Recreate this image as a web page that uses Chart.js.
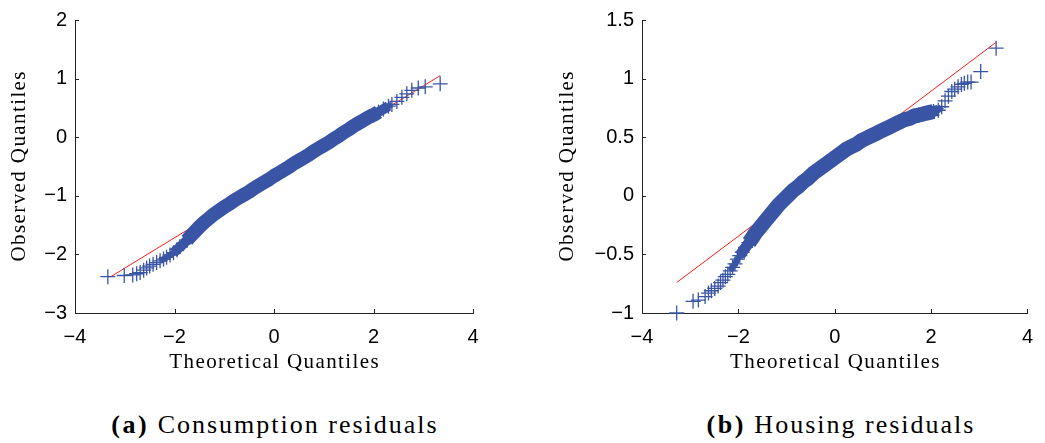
<!DOCTYPE html>
<html><head><meta charset="utf-8">
<script src="https://cdn.jsdelivr.net/npm/chart.js@4"></script>
<style>
body{margin:0;background:#fff;width:1045px;height:443px;overflow:hidden;position:relative}
.wrap{position:absolute;top:0}
.cap{position:absolute;top:410px;font:26px "Liberation Serif",serif;letter-spacing:2px;color:#000;white-space:nowrap;transform:translateX(-50%)}
.cap b{font-weight:bold;letter-spacing:2.5px}
</style></head><body>
<div class="wrap" style="left:0px"><canvas id="c1" width="500" height="390"></canvas></div>
<div class="wrap" style="left:548px"><canvas id="c2" width="497" height="390"></canvas></div>
<div class="cap" style="left:275px"><b>(a)</b> Consumption residuals</div>
<div class="cap" style="left:841px"><b>(b)</b> Housing residuals</div>
<script>
// ---------- data ----------
const xTickValues = [-4, -2, 0, 2, 4];
const leftYTickValues = [-3, -2, -1, 0, 1, 2];
const rightYTickValues = [-1, -0.5, 0, 0.5, 1, 1.5];
const xTitle = 'Theoretical Quantiles';
const yTitle = 'Observed Quantiles';

// (a) Consumption residuals: theoretical vs observed quantiles
const consX = [-3.34,-3.01,-2.84,-2.76,-2.69,-2.62,-2.56,-2.50,-2.43,-2.36,-2.29,-2.22,-2.16,-2.09,-2.02,-1.95,-1.89,-1.82,-1.75,-1.68,-1.60,-1.50,-1.40,-1.30,-1.20,-1.10,-1.00,-0.90,-0.80,-0.70,-0.60,-0.50,-0.40,-0.30,-0.20,-0.10,0.00,0.10,0.20,0.30,0.40,0.50,0.60,0.70,0.80,0.90,1.00,1.10,1.20,1.30,1.40,1.50,1.60,1.70,1.80,1.90,2.00,2.10,2.20,2.30,2.37,2.47,2.57,2.67,2.77,2.90,3.04,3.34];
const consY = [-2.38,-2.36,-2.35,-2.33,-2.31,-2.27,-2.23,-2.20,-2.17,-2.14,-2.11,-2.08,-2.05,-2.01,-1.97,-1.92,-1.87,-1.82,-1.76,-1.69,-1.62,-1.53,-1.45,-1.38,-1.31,-1.25,-1.19,-1.14,-1.08,-1.03,-0.98,-0.93,-0.87,-0.82,-0.77,-0.72,-0.66,-0.61,-0.56,-0.51,-0.45,-0.40,-0.35,-0.30,-0.24,-0.19,-0.14,-0.09,-0.03,0.02,0.08,0.13,0.19,0.24,0.29,0.34,0.38,0.43,0.48,0.53,0.56,0.61,0.68,0.74,0.80,0.84,0.86,0.91];
const consLineX = [-3.30, 3.34];
const consLineY = [-2.39, 1.05];

// (b) Housing residuals
const housX = [-3.28,-2.94,-2.83,-2.69,-2.62,-2.56,-2.49,-2.42,-2.37,-2.32,-2.27,-2.22,-2.17,-2.12,-2.07,-2.02,-1.97,-1.92,-1.85,-1.78,-1.71,-1.65,-1.55,-1.45,-1.35,-1.25,-1.15,-1.05,-0.95,-0.85,-0.75,-0.65,-0.55,-0.45,-0.35,-0.25,-0.15,-0.05,0.05,0.15,0.25,0.35,0.45,0.55,0.65,0.75,0.85,0.95,1.05,1.15,1.25,1.35,1.45,1.55,1.65,1.75,1.85,1.95,2.05,2.15,2.22,2.29,2.36,2.43,2.49,2.56,2.63,2.69,2.76,2.83,3.03,3.35];
const housY = [-1.00,-0.90,-0.89,-0.86,-0.83,-0.81,-0.79,-0.77,-0.74,-0.72,-0.69,-0.67,-0.64,-0.61,-0.58,-0.54,-0.51,-0.48,-0.44,-0.40,-0.36,-0.32,-0.27,-0.22,-0.17,-0.12,-0.07,-0.03,0.01,0.05,0.08,0.12,0.15,0.19,0.22,0.25,0.28,0.31,0.34,0.37,0.40,0.42,0.44,0.47,0.49,0.51,0.53,0.55,0.57,0.59,0.61,0.63,0.65,0.66,0.68,0.69,0.70,0.71,0.72,0.73,0.76,0.81,0.85,0.89,0.91,0.93,0.95,0.96,0.97,0.97,1.06,1.26];
const housLineX = [-3.28, 3.35];
const housLineY = [-0.74, 1.31];

// ---------- rendering ----------
const BLUE = '#3a55a5';
const RED = '#ff1a1a';
const pts = (xs, ys) => xs.map((x, i) => ({x, y: ys[i]}));
const fmt = v => (v < 0 ? '\u2212' : '') + Math.abs(v);

const innerTicks = {
  id: 'innerTicks',
  afterDraw(chart) {
    const {ctx, chartArea: a, scales: {x, y}} = chart;
    ctx.save();
    ctx.strokeStyle = '#222'; ctx.lineWidth = 1;
    ctx.beginPath();
    x.ticks.forEach(t => { const p = Math.round(x.getPixelForValue(t.value)) + 0.5; ctx.moveTo(p, a.bottom); ctx.lineTo(p, a.bottom - 4); });
    y.ticks.forEach(t => { const p = Math.round(y.getPixelForValue(t.value)) + 0.5; ctx.moveTo(a.left, p); ctx.lineTo(a.left + 4, p); });
    ctx.stroke();
    ctx.restore();
  }
};

const axisTitles = {
  id: 'axisTitles',
  afterDraw(chart, args, o) {
    const {ctx, chartArea: a} = chart;
    ctx.save();
    ctx.fillStyle = '#000';
    ctx.font = '21px "Liberation Serif"';
    ctx.letterSpacing = o.spacing + 'px';
    ctx.textAlign = 'center'; ctx.textBaseline = 'middle';
    ctx.fillText(o.xText, (a.left + a.right) / 2 + o.spacing / 2, a.bottom + o.xOffset);
    ctx.translate(a.left - o.yOffset, (a.top + a.bottom) / 2);
    ctx.rotate(-Math.PI / 2);
    ctx.fillText(o.yText, o.spacing / 2, 0);
    ctx.restore();
  }
};

// bands: [from, to, width] — nested ranges give a tapered dense band
function makeChart(id, xs, ys, lx, ly, yTicks, bands, yAxisWidth, padRight, yTitleOffset) {
  const all = pts(xs, ys);
  const bandStyle = {showLine: true, borderColor: BLUE, pointRadius: 0, tension: 0, borderCapStyle: 'butt', borderJoinStyle: 'round', order: 2, clip: false};
  const bandSets = bands.map(b => Object.assign({data: all.filter(p => p.x >= b[0] && p.x <= b[1]), borderWidth: b[2]}, bandStyle));
  return new Chart(document.getElementById(id), {
    type: 'scatter',
    data: {
      datasets: [
        {data: pts(lx, ly), showLine: true, borderColor: RED, borderWidth: 1, pointRadius: 0, order: 4, clip: false},
        ...bandSets,
        {data: all, showLine: false, pointStyle: 'cross', pointRadius: 7.5, pointBorderWidth: 1.3, borderColor: BLUE, backgroundColor: BLUE, order: 1, clip: false}
      ]
    },
    options: {
      responsive: false, animation: false, events: [],
      layout: {padding: {left: 0, right: padRight, top: 15, bottom: 0}},
      plugins: {
        legend: {display: false}, tooltip: {enabled: false},
        axisTitles: {xText: xTitle, yText: yTitle, spacing: 1.4, xOffset: 49, yOffset: yTitleOffset}
      },
      scales: {
        x: {
          type: 'linear', min: -4, max: 4,
          afterBuildTicks: s => { s.ticks = xTickValues.map(v => ({value: v})); },
          afterFit: s => { s.height = 77; },
          grid: {display: false, drawTicks: false},
          border: {display: true, color: '#222', width: 1},
          ticks: {padding: 12, color: '#000', font: {family: 'Liberation Sans', size: 20}, callback: fmt, maxRotation: 0},
          title: {display: false}
        },
        y: {
          type: 'linear', min: yTicks[0], max: yTicks[yTicks.length - 1],
          afterBuildTicks: s => { s.ticks = yTicks.map(v => ({value: v})); },
          afterFit: s => { s.width = yAxisWidth; },
          grid: {display: false, drawTicks: false},
          border: {display: true, color: '#222', width: 1},
          ticks: {padding: 8, color: '#000', font: {family: 'Liberation Sans', size: 20}, callback: fmt},
          title: {display: false}
        }
      }
    },
    plugins: [innerTicks, axisTitles]
  });
}

makeChart('c1', consX, consY, consLineX, consLineY, leftYTickValues, [[-2.3, 2.4, 6], [-2.05, 2.3, 10], [-1.8, 2.1, 14]], 75, 27, 56);
makeChart('c2', housX, housY, housLineX, housLineY, rightYTickValues, [[-2.2, 2.25, 6], [-2.0, 2.16, 11], [-1.8, 2.05, 15]], 94, 7, 75);
</script>
</body></html>
